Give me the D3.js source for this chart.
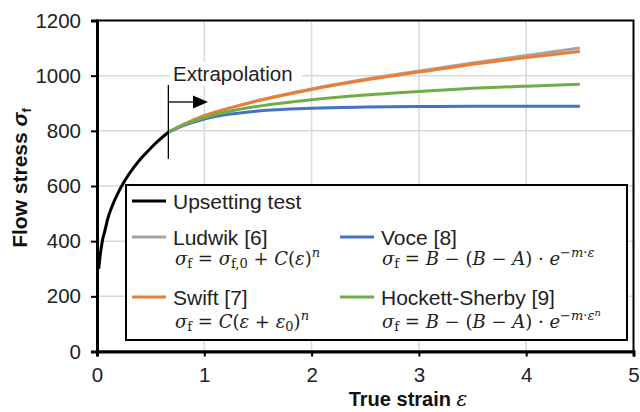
<!DOCTYPE html>
<html><head><meta charset="utf-8">
<script src="https://cdn.jsdelivr.net/npm/d3@7"></script>
<style>
body{margin:0;background:#fff;}
</style></head>
<body><svg id="c" width="640" height="412" font-family="Liberation Sans, Arial, sans-serif"></svg>
<script>
// ---- data ----
const upsetStrain = [0.016, 0.028, 0.05, 0.075, 0.1, 0.137, 0.2, 0.26, 0.35, 0.42, 0.5, 0.58, 0.665];
const upsetStress = [300, 343, 401, 440, 481, 523, 578, 620, 671, 704, 737, 767, 795];
const extraStrain = [0.665, 0.8, 1, 1.25, 1.5, 2, 2.5, 3, 3.5, 4, 4.5];
const ludwik  = [795, 822, 855, 884, 910, 952, 987, 1017, 1046, 1073, 1100];
const swift   = [795, 822, 855, 884, 909, 950, 984, 1013, 1041, 1066, 1088];
const hockett = [795, 821, 848, 872, 889, 913, 930, 943, 954, 962, 969];
const voce    = [795, 818, 843, 861, 872, 882, 886, 888, 889, 889, 889];
const xTicks = [0, 1, 2, 3, 4, 5];
const yTicks = [0, 200, 400, 600, 800, 1000, 1200];
const extrapolationStart = 0.665;

const svg = d3.select("#c");
const x = d3.scaleLinear().domain([0, 5]).range([97, 633.5]);
const y = d3.scaleLinear().domain([0, 1200]).range([351.5, 20.5]);

// grid
svg.append("g").selectAll("line").data(yTicks.filter(v => v > 0 && v < 1200)).join("line")
  .attr("x1", x(0)).attr("x2", x(5)).attr("y1", d => y(d)).attr("y2", d => y(d))
  .attr("stroke", "#d9d9d9").attr("stroke-width", 1.5);
svg.append("g").selectAll("line").data(xTicks.filter(v => v > 0 && v < 5)).join("line")
  .attr("y1", y(0)).attr("y2", y(1200)).attr("x1", d => x(d)).attr("x2", d => x(d))
  .attr("stroke", "#d9d9d9").attr("stroke-width", 1.5);

// frame (top & right)
svg.append("rect").attr("x", x(0)).attr("y", y(1200)).attr("width", x(5) - x(0)).attr("height", y(0) - y(1200))
  .attr("fill", "none").attr("stroke", "#000").attr("stroke-width", 2);

// curves
const line = d3.line().x(d => x(d[0])).y(d => y(d[1])).curve(d3.curveMonotoneX);
const series = [
  {v: ludwik, c: "#a5a5a5"},
  {v: swift, c: "#ed7d31"},
  {v: voce, c: "#4472c4"},
  {v: hockett, c: "#70ad47"}
];
series.forEach(s => {
  svg.append("path").datum(extraStrain.map((e, i) => [e, s.v[i]]))
    .attr("d", line).attr("fill", "none").attr("stroke", s.c).attr("stroke-width", 3);
});
svg.append("path").datum(upsetStrain.map((e, i) => [e, upsetStress[i]]))
  .attr("d", line).attr("fill", "none").attr("stroke", "#000").attr("stroke-width", 3);

// extrapolation marker
const mx = x(extrapolationStart);
svg.append("line").attr("x1", mx).attr("x2", mx).attr("y1", 85).attr("y2", 159)
  .attr("stroke", "#000").attr("stroke-width", 1.3);
svg.append("line").attr("x1", mx).attr("x2", 195).attr("y1", 102).attr("y2", 102)
  .attr("stroke", "#000").attr("stroke-width", 1.3);
svg.append("path").attr("d", "M193,95.5 L208,102 L193,108.5 Z").attr("fill", "#000");
svg.append("rect").attr("x", 170).attr("y", 62).attr("width", 132).attr("height", 24).attr("fill", "#fff");
svg.append("text").attr("x", 173).attr("y", 81).attr("font-size", 20.5).attr("fill", "#222").text("Extrapolation");

// axes
const ax = svg.append("g").attr("transform", `translate(0,${y(0)})`)
  .call(d3.axisBottom(x).tickValues(xTicks).tickSize(5).tickFormat(d3.format("d")));
ax.select(".domain").attr("stroke-width", 3);
ax.selectAll(".tick line").attr("stroke-width", 2);
ax.selectAll("text").attr("y", 30).attr("dy", 0).attr("font-size", 20.5).attr("fill", "#222")
  .attr("font-family", "Liberation Sans");
const ay = svg.append("g").attr("transform", `translate(${x(0)},0)`)
  .call(d3.axisLeft(y).tickValues(yTicks).tickSize(6).tickPadding(10).tickFormat(d3.format("d")));
ay.select(".domain").attr("stroke-width", 3);
ay.selectAll(".tick line").attr("stroke-width", 2);
ay.selectAll("text").attr("font-size", 20.5).attr("fill", "#222").attr("font-family", "Liberation Sans");

// axis titles
const xt = svg.append("text").attr("x", 408).attr("y", 406).attr("text-anchor", "middle")
  .attr("font-size", 20).attr("font-weight", "bold").attr("fill", "#111");
xt.append("tspan").text("True strain ");
xt.append("tspan").attr("font-family", "DejaVu Serif").attr("font-style", "italic").attr("font-weight", "normal").text("ε");

const yt = svg.append("text").attr("transform", "translate(27,178) rotate(-90)").attr("text-anchor", "middle")
  .attr("font-size", 21).attr("font-weight", "bold").attr("fill", "#111");
yt.append("tspan").text("Flow stress ");
yt.append("tspan").attr("font-style", "italic").text("σ");
yt.append("tspan").attr("font-size", 13).attr("dy", 4).text("f");

// legend
svg.append("rect").attr("x", 126).attr("y", 185).attr("width", 501).attr("height", 155)
  .attr("fill", "#fff").attr("stroke", "#000").attr("stroke-width", 2);
const legendItems = [
  {name: "Upsetting test", c: "#000", lx: 132, ly: 201},
  {name: "Ludwik [6]", c: "#a5a5a5", lx: 132, ly: 237},
  {name: "Voce [8]", c: "#4472c4", lx: 340, ly: 237},
  {name: "Swift [7]", c: "#ed7d31", lx: 132, ly: 297},
  {name: "Hockett-Sherby [9]", c: "#70ad47", lx: 340, ly: 297}
];
legendItems.forEach(it => {
  svg.append("line").attr("x1", it.lx).attr("x2", it.lx + 34).attr("y1", it.ly).attr("y2", it.ly)
    .attr("stroke", it.c).attr("stroke-width", 3);
  svg.append("text").attr("x", it.lx + 41).attr("y", it.ly + 7.5).attr("font-size", 21).attr("fill", "#222").text(it.name);
});

// formulas
function formula(xp, yp, parts) {
  const t = svg.append("text").attr("x", xp).attr("y", yp).attr("font-family", "DejaVu Serif")
    .attr("font-size", 18).attr("fill", "#222");
  parts.forEach(p => {
    const s = t.append("tspan").text(p.t);
    s.attr("font-style", p.i ? "italic" : "normal");
    if (p.s) s.attr("font-size", p.s);
    if (p.dy) s.attr("dy", p.dy);
  });
}
const sigf = [{t: "σ", i: 1}, {t: "f", s: 13, dy: 3}];
formula(175, 265, [...sigf, {t: " = ", dy: -3}, {t: "σ", i: 1}, {t: "f,0", s: 13, dy: 3}, {t: " + ", dy: -3}, {t: "C", i: 1}, {t: "("}, {t: "ε", i: 1}, {t: ")"}, {t: "n", i: 1, s: 13, dy: -8}]);
formula(175, 328, [...sigf, {t: " = ", dy: -3}, {t: "C", i: 1}, {t: "("}, {t: "ε", i: 1}, {t: " + "}, {t: "ε", i: 1}, {t: "0", s: 13, dy: 3}, {t: ")", dy: -3}, {t: "n", i: 1, s: 13, dy: -8}]);
formula(382, 265, [...sigf, {t: " = ", dy: -3}, {t: "B", i: 1}, {t: " − ("}, {t: "B", i: 1}, {t: " − "}, {t: "A", i: 1}, {t: ") · "}, {t: "e", i: 1}, {t: "−", s: 13, dy: -8}, {t: "m", i: 1, s: 13}, {t: "·", s: 13}, {t: "ε", i: 1, s: 13}]);
formula(382, 328, [...sigf, {t: " = ", dy: -3}, {t: "B", i: 1}, {t: " − ("}, {t: "B", i: 1}, {t: " − "}, {t: "A", i: 1}, {t: ") · "}, {t: "e", i: 1}, {t: "−", s: 13, dy: -8}, {t: "m", i: 1, s: 13}, {t: "·", s: 13}, {t: "ε", i: 1, s: 13}, {t: "n", i: 1, s: 10, dy: -4}]);
</script></body></html>
